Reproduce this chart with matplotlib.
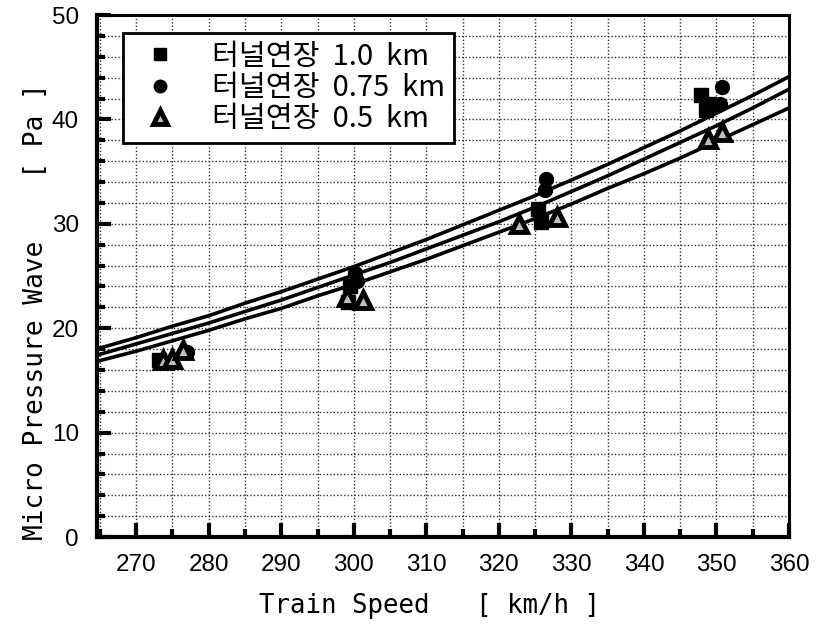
import matplotlib
matplotlib.use("Agg")
import matplotlib.pyplot as plt
from matplotlib.ticker import MultipleLocator

# fitted curves, every 5 km/h
speed = [265, 270, 275, 280, 285, 290, 295, 300, 305, 310,
         315, 320, 325, 330, 335, 340, 345, 350, 355, 360]
curve_top = [18.1, 19.1, 20.2, 21.2, 22.4, 23.5, 24.7, 25.9, 27.2, 28.5,
             29.9, 31.3, 32.7, 34.2, 35.7, 37.3, 38.9, 40.6, 42.3, 44.1]
curve_mid = [17.5, 18.5, 19.5, 20.5, 21.6, 22.7, 23.9, 25.1, 26.3, 27.6,
             28.9, 30.2, 31.6, 33.1, 34.6, 36.2, 37.8, 39.4, 41.1, 42.9]
curve_low = [16.9, 17.8, 18.8, 19.8, 20.9, 21.9, 23.1, 24.2, 25.4, 26.6,
             27.9, 29.2, 30.5, 31.9, 33.4, 34.8, 36.3, 37.9, 39.5, 41.1]

# measured points
sq_x = [273.2, 299.5, 299.2, 325.4, 325.8, 347.9, 349.0, 348.5]
sq_y = [17.0, 24.0, 22.5, 31.4, 30.2, 42.3, 41.5, 40.9]
ci_x = [277.0, 300.1, 300.4, 326.5, 326.3, 350.7, 350.5]
ci_y = [17.7, 25.3, 24.5, 34.3, 33.2, 43.1, 41.5]
tr_x = [273.7, 274.9, 276.4, 299.0, 301.2, 322.8, 328.0, 348.8, 350.7]
tr_y = [17.0, 17.1, 17.9, 23.0, 22.7, 30.0, 30.7, 38.1, 38.8]

labels = ["터널연장  1.0  km", "터널연장  0.75  km", "터널연장  0.5  km"]

plt.rcParams['font.family'] = ['Noto Sans CJK KR', 'DejaVu Sans']

fig = plt.figure(figsize=(8.23, 6.27), dpi=100)
ax = fig.add_axes([0.1179, 0.1435, 0.8408, 0.8325])

for c in (curve_top, curve_mid, curve_low):
    ax.plot(speed, c, color='black', lw=2.6, zorder=3)

ax.plot(sq_x, sq_y, ls='none', marker='s', ms=10, color='black', label=labels[0], zorder=4)
ax.plot(ci_x, ci_y, ls='none', marker='o', ms=10, color='black', label=labels[1], zorder=4)
ax.plot(tr_x, tr_y, ls='none', marker='^', ms=11, mfc='0.75', mec='black', mew=3.5,
        label=labels[2], zorder=4)

ax.set_xlim(264.6, 360)
ax.set_ylim(0, 50)
ax.xaxis.set_major_locator(MultipleLocator(10))
ax.xaxis.set_minor_locator(MultipleLocator(5))
ax.yaxis.set_major_locator(MultipleLocator(10))
ax.yaxis.set_minor_locator(MultipleLocator(2))
ax.grid(which='both', ls=(0, (1, 1.5)), color='0.2', lw=1.0)

ax.tick_params(which='both', direction='in', top=False, right=False, width=3)
ax.tick_params(which='major', length=10)
ax.tick_params(which='minor', length=6)
ax.tick_params(axis='x', pad=12)
ax.tick_params(axis='y', pad=13)
for t in ax.get_xticklabels() + ax.get_yticklabels():
    t.set_fontfamily('Liberation Sans')
    t.set_fontsize(17.5)

for s in ax.spines.values():
    s.set_linewidth(2.2)
ax.spines['left'].set_linewidth(3)
ax.spines['bottom'].set_linewidth(3)

ax.set_xlabel("Train Speed   [ km/h ]", family='DejaVu Sans Mono', fontsize=18.5)
ax.set_ylabel("Micro Pressure Wave    [ Pa ]", family='DejaVu Sans Mono', fontsize=18.8)
ax.xaxis.set_label_coords(0.48, -0.108)
ax.yaxis.set_label_coords(-0.07, 0.431)

leg = ax.legend(loc='upper left', bbox_to_anchor=(0.037, 0.966), fontsize=21,
                fancybox=False, edgecolor='black', framealpha=1, borderpad=0.3,
                handlelength=1.93, handletextpad=0.83, labelspacing=0.04,
                borderaxespad=0, markerscale=0.9)
leg.get_frame().set_linewidth(2)

fig.savefig("out.png", dpi=100)
